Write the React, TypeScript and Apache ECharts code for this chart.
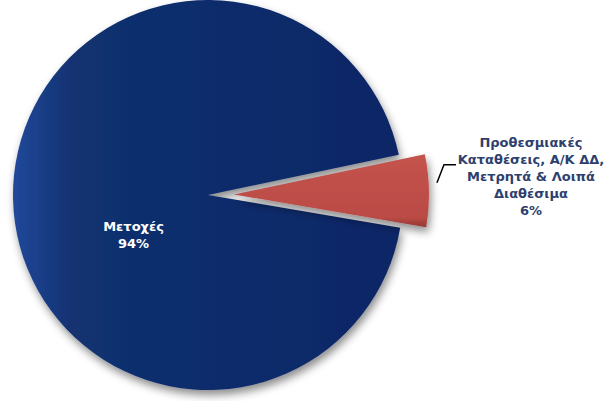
import React, { useEffect, useRef } from "react";
import * as echarts from "echarts";

const categories = ["Μετοχές", "Προθεσμιακές\nΚαταθέσεις, Α/Κ ΔΔ,\nΜετρητά & Λοιπά\nΔιαθέσιμα"];
const values = [94, 6];
const percentLabels = ["94%", "6%"];

export default function App() {
  const ref = useRef<HTMLDivElement>(null);
  useEffect(() => {
    if (!ref.current) return;
    const chart = echarts.init(ref.current, undefined, { renderer: "svg" });
    const font = "'DejaVu Sans', 'Noto Sans', sans-serif";
    const blue = {
      type: "linear", x: 0, y: 0, x2: 1, y2: 0,
      colorStops: [
        { offset: 0, color: "#21489a" },
        { offset: 0.16, color: "#12316f" },
        { offset: 1, color: "#0b2666" },
      ],
    };
    const red = {
      type: "linear", x: 0, y: 0, x2: 0, y2: 1,
      colorStops: [
        { offset: 0, color: "#c4534d" },
        { offset: 0.86, color: "#bb4b45" },
        { offset: 1, color: "#943631" },
      ],
    };
    const textStyle = { fontFamily: font, fontWeight: "bold", fontSize: 13, lineHeight: 17 };
    const data = categories.map((name, i) => ({
      name,
      value: values[i],
      selected: i === 1,
      itemStyle: { color: i === 0 ? blue : red },
      select: { itemStyle: { color: i === 0 ? blue : red } },
      label:
        i === 0
          ? {
              position: "inside",
              color: "#ffffff",
              formatter: () =>
                "{s| }\n{w| }{t|" + categories[0] + "}\n{w| }{t|" + percentLabels[0] + "}",
              rich: {
                s: { lineHeight: 76, fontSize: 1 },
                w: { width: 52, fontSize: 1 },
                t: { ...textStyle, color: "#ffffff" },
              },
            }
          : {
              position: "outside",
              color: "#2e3f6e",
              width: 170,
              overflow: "none",
              formatter: () =>
                categories[1]
                  .split("\n")
                  .concat([percentLabels[1]])
                  .map((l) => "{t|" + l + "}")
                  .join("\n") + "\n{s| }",
              rich: {
                s: { lineHeight: 28, fontSize: 1 },
                t: { ...textStyle, color: "#2e3f6e" },
              },
            },
      labelLine: i === 1 ? { length: 10, length2: 87 } : undefined,
    }));
    chart.setOption({
      animation: false,
      backgroundColor: "#ffffff",
      series: [
        {
          type: "pie",
          center: [208, 195],
          radius: [0, 195],
          startAngle: 350.3,
          clockwise: true,
          selectedMode: "single",
          selectedOffset: 26,
          avoidLabelOverlap: false,
          itemStyle: {
            shadowBlur: 8,
            shadowOffsetX: 2,
            shadowOffsetY: 5,
            shadowColor: "rgba(0,0,0,0.45)",
          },
          label: {
            ...textStyle,
            align: "center",
          },
          labelLine: {
            show: true,
            lineStyle: { color: "#000000", width: 1.5 },
          },
          labelLayout: (params: any) => {
            if (params.dataIndex === 0) return {};
            const pts = params.labelLinePoints;
            const r = params.rect;
            const x1 = pts ? pts[0][0] : r.x + r.width;
            const y1 = pts ? pts[0][1] : r.y + r.height / 2;
            const p1 = [x1 + 8, y1 - 8];
            const p2 = [p1[0] + 7, p1[1] - 18];
            const p3 = [p2[0] + 12, p2[1]];
            return {
              align: "center",
              labelLinePoints: [p1, p2, p3],
            };
          },
          data,
        },
      ],
    });
    return () => chart.dispose();
  }, []);
  return (
    <div
      ref={ref}
      style={{ position: "fixed", left: 0, top: 0, width: 609, height: 401 }}
    />
  );
}
